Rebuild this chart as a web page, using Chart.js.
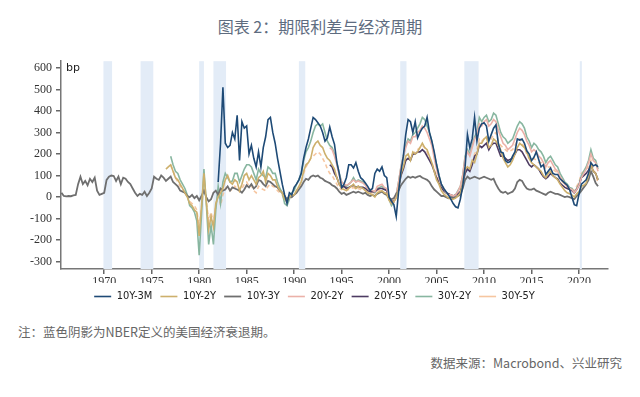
<!DOCTYPE html>
<html>
<head>
<meta charset="utf-8">
<script src="https://cdn.jsdelivr.net/npm/chart.js@4.4.0/dist/chart.umd.min.js"></script>
<style>
  body { margin: 0; background: #fff; width: 640px; height: 397px; overflow: hidden; position: relative; }
  #title { position: absolute; top: 14px; left: 0; width: 640px; text-align: center; font: 16px "Noto Sans CJK SC", sans-serif; color: #5e6c80; }
  #note { position: absolute; top: 322px; left: 18px; font: 12.5px "Noto Sans CJK SC", sans-serif; color: #666; }
  #source { position: absolute; top: 353px; right: 18px; font: 12.5px "Noto Sans CJK SC", sans-serif; color: #666; }
  #wrap { position: absolute; top: 50px; left: 0; width: 640px; height: 262px; }
</style>
</head>
<body>
<div id="title">图表 2：期限利差与经济周期</div>
<div id="wrap"><canvas id="chart"></canvas></div>
<div id="note">注：蓝色阴影为NBER定义的美国经济衰退期。</div>
<div id="source">数据来源：Macrobond、兴业研究</div>
<script>
// quarterly readings (bp), each series starts at its own date
const start10y3m = 1982.0;
const s10y3m = [
  70, 250, 510, 250,  230, 240, 300, 270,  380, 170, 350, 320,  330, 200, 240, 180,
  140, 210, 140, 230,  280, 360, 370, 300,  250, 180, 120, 60,  10, -30, 20, 10,
  45, 60, 80, 110,  180, 230, 270, 320,  370, 360, 345, 330,  300, 260, 275, 325,
  280, 245, 160, 110,  45, 60, 90, 150,  150, 135, 160, 120,  90, 80, 65, 50,
  30, 40, 110, 130,  120, 140, 100, 90,  0, -20, -35, -90,  25, 120, 190, 290,
  360, 350, 300, 350,  275, 300, 320, 330,  370, 300, 260, 210,  150, 100, 60, 40,
  25, 10, -10, -30,  -45, -50, -10, 50,  140, 290, 230, 270,  370, 260, 320, 340,
  345, 330, 260, 290,  320, 335, 250, 210,  205, 170, 160, 165,  190, 210, 270, 265,
  270, 250, 215, 200,  170, 185, 210, 175,  140, 150, 105, 120,  135, 110, 105, 105,
  85, 75, 65, 55,  35, 0, -35, -40,  15, 60, 70, 80,  110, 160, 145, 150,  140
];
const start10y2y = 1976.5;
const s10y2y = [
  130, 140,  150, 120, 90, 80,  60, 40, 20, 0,  -30, -40, -60, -70,  -180, -40, 110, -20,
  -150, -90, -140, -30,  0, 20, 40, 80,  100, 70, 60, 80,  70, 30, 60, 100,  110, 80, 100, 80,
  60, 90, 100, 120,  70, 110, 100, 80,  80, 50, 30, 20,  -10, -20, 0, 10,  10, 30, 50, 70,
  120, 150, 160, 180,  230, 250, 260, 240,  230, 200, 180, 170,  150, 130, 90, 60,  40, 35, 30, 40,
  50, 60, 40, 50,  45, 40, 30, 20,  15, 10, 0, 20,  25, 30, 20, 15,  -15, -30, -20, -5,
  40, 110, 140, 190,  200, 170, 210, 200,  210, 230, 250, 230,  220, 190, 160, 120,  80, 60, 30, 15,
  5, -5, -10, -10,  -5, 5, 20, 60,  130, 140, 130, 170,  160, 200, 250, 250,  270, 280, 230, 240,
  270, 260, 240, 220,  180, 160, 140, 150,  170, 200, 230, 250,  240, 230, 210, 180,  160, 150, 140, 130,
  120, 100, 90, 110,  120, 100, 90, 80,  60, 45, 30, 20,  15, 10, 0, 15,  25, 50, 55, 65,
  100, 150, 120, 110,  80
];
const start10y3y = 1965.5;
const s10y3y = [
  20, 5,  3, 5, 4, 8,  10, 60, 95, 60,  75, 55, 85, 70,  90, 30, 10, 15,  20, 80, 95, 100,
  98, 75, 95, 60,  90, 85, 70, 60,  40, 20, 5, 15,  10, 25, 5, 20,  40, 95, 85, 80,
  100, 90, 75, 85,  95, 70, 60, 50,  30, 25, 20, 5,  0, 10, -5, 5,  -15, 5, 30, 0,
  -20, -10, 20, 30,  10, 40, 30, 35,  50, 30, 45, 40,  35, 30, 20, 35,  55, 45, 60, 40,
  50, 80, 75, 60,  50, 75, 70, 60,  50, 45, 30, 20,  5, -10, 5, 0,  10, 20, 35, 50,
  70, 85, 80, 95,  100, 95, 100, 90,  85, 75, 70, 65,  55, 50, 40, 25,  15, 20, 10, 15,
  20, 25, 20, 25,  20, 15, 20, 10,  5, 10, 5, 15,  20, 25, 15, 10,  -5, -10, -5, 15,
  30, 55, 70, 85,  95, 90, 95, 90,  95, 98, 90, 85,  80, 70, 50, 35,  25, 15, 5, 5,
  0, -5, 0, -5,  0, 5, 10, 40,  80, 95, 85, 90,  95, 90, 85, 90,  95, 90, 85, 80,
  85, 60, 40, 25,  20, 25, 15, 20,  25, 40, 70, 80,  75, 55, 40, 35,  35, 40, 30, 25,
  20, 15, 10, 20,  25, 20, 15, 15,  10, 5, 0, 3,  0, -5, -10, 5,  15, 30, 45, 60,
  80, 120, 95, 65,  50
];
const start20y2y = 1993.75;
const s20y2y = [
  230,  220, 190, 150, 100,  70, 60, 55, 60,  70, 80, 70, 75,  70, 65, 55, 40,
  35, 30, 25, 50,  55, 60, 45, 40,  -5, -30, -25, 10,  70, 140, 190, 230,
  260, 250, 280, 280,  300, 310, 330, 320,  300, 270, 240, 180,  130, 90, 55, 40,
  20, 10, 10, 5,  10, 25, 50, 100,  180, 210, 190, 230,  270, 290, 340, 330,
  350, 360, 330, 340,  360, 350, 310, 280,  250, 240, 220, 230,  240, 270, 300, 320,
  310, 290, 260, 240,  210, 220, 210, 190,  180, 160, 140, 160,  170, 150, 130, 120,
  95, 80, 60, 50,  40, 35, 20, 35,  55, 90, 110, 130,  160, 200, 170, 160,  120
];
const start20y5y = 1993.75;
const s20y5y = [
  150,  140, 110, 90, 60,  45, 50, 40, 45,  50, 55, 45, 50,  45, 45, 40, 30,
  25, 25, 25, 35,  40, 40, 35, 30,  0, -20, -20, 5,  45, 100, 130, 170,
  180, 170, 200, 200,  210, 210, 220, 210,  190, 170, 150, 120,  90, 65, 45, 30,
  20, 15, 10, 5,  10, 15, 25, 60,  110, 130, 120, 150,  190, 200, 240, 230,
  240, 250, 220, 240,  250, 250, 220, 190,  190, 180, 170, 175,  180, 200, 220, 220,
  210, 190, 170, 150,  140, 150, 140, 130,  110, 95, 85, 95,  110, 100, 90, 85,
  65, 55, 45, 40,  35, 30, 20, 35,  55, 90, 100, 110,  125, 150, 120, 110,  80
];
const start30y2y = 1977.0;
const s30y2y = [
  190, 150, 120, 110,  80, 60, 40, 10,  -40, -50, -70, -110,  -270, -80, 130, -30,
  -220, -130, -220, -60,  50, -30, 70, 110,  90, 70, 75, 110,  110, 70, 100, 130,
  150, 150, 140, 110,  80, 130, 110, 100,  90, 140, 130, 110,  110, 70, 40, 20,
  -30, -40, -10, 20,  30, 60, 80, 110,  170, 210, 230, 260,  300, 330, 340, 330,
  340, 300, 260, 240,  230, 200, 160, 110,  70, 60, 50, 60,  70, 90, 70, 80,
  75, 70, 60, 40,  35, 30, 20, 40,  45, 50, 40, 30,  -10, -40, -25, 10,
  70, 140, 190, 240,  270, 260, 290, 300,  320, 340, 370, 360,  330, 300, 260, 200,
  150, 100, 60, 40,  20, 10, 10, 5,  10, 30, 50, 100,  190, 220, 200, 240,
  280, 300, 370, 350,  370, 380, 350, 360,  390, 380, 340, 300,  280, 270, 250, 260,
  270, 300, 330, 350,  340, 320, 280, 260,  230, 250, 240, 220,  210, 190, 160, 180,
  190, 170, 150, 140,  110, 90, 70, 60,  45, 40, 20, 40,  60, 100, 120, 140,
  170, 220, 180, 170,  130
];
const start30y5y = 1977.0;
const s30y5y = [
  150, 120, 90, 70,  50, 40, 20, 10,  -20, -30, -40, -60,  -140, -50, 60, -20,
  -110, -70, -120, -40,  20, -40, 10, 40,  50, 30, 35, 50,  40, 25, 40, 60,
  70, 50, 55, 30,  20, 50, 40, 35,  30, 50, 60, 50,  45, 30, 20, 10,
  -15, -20, -10, 0,  15, 30, 40, 70,  110, 140, 160, 180,  190, 200, 210, 200,
  180, 160, 130, 110,  100, 80, 60, 40,  35, 40, 30, 35,  40, 45, 35, 40,
  35, 35, 30, 25,  20, 20, 20, 30,  30, 25, 20, 20,  -5, -20, -15, 5,
  40, 100, 140, 170,  190, 180, 200, 210,  220, 230, 240, 230,  210, 180, 160, 130,
  100, 70, 50, 30,  20, 15, 10, 5,  10, 20, 30, 60,  110, 140, 130, 160,
  200, 220, 270, 260,  270, 280, 260, 270,  290, 300, 260, 240,  230, 220, 210, 215,
  220, 240, 260, 270,  250, 230, 200, 180,  170, 180, 170, 160,  160, 150, 130, 140,
  140, 130, 120, 115,  90, 70, 60, 50,  40, 40, 30, 50,  70, 110, 120, 130,
  140, 170, 130, 110,  60
];

const labels = ['10Y-3M', '10Y-2Y', '10Y-3Y', '20Y-2Y', '20Y-5Y', '30Y-2Y', '30Y-5Y'];
const colors = ['#1e4a76', '#cdb06c', '#6f6f6f', '#ebb1a9', '#4d3b62', '#88b6a0', '#f6c6a0'];
const yTicks = [-300, -200, -100, 0, 100, 200, 300, 400, 500, 600];
const xTicks = [1970, 1975, 1980, 1985, 1990, 1995, 2000, 2005, 2010, 2015, 2020];
// NBER recessions, decimal years
const recessions = [[1969.92, 1970.83], [1973.83, 1975.17], [1980.0, 1980.5], [1981.5, 1982.83],
  [1990.5, 1991.17], [2001.17, 2001.83], [2007.92, 2009.42], [2020.08, 2020.3]];

function toPoints(start, vals) {
  return vals.map((v, i) => ({ x: start + i * 0.25, y: v }));
}

const seriesData = [
  toPoints(start10y3m, s10y3m), toPoints(start10y2y, s10y2y), toPoints(start10y3y, s10y3y),
  toPoints(start20y2y, s20y2y), toPoints(start20y5y, s20y5y), toPoints(start30y2y, s30y2y),
  toPoints(start30y5y, s30y5y)
];

const datasets = labels.map((l, i) => ({
  label: l,
  data: seriesData[i],
  borderColor: colors[i],
  backgroundColor: colors[i],
  borderWidth: i === 2 ? 1.8 : 1.6,
  borderDash: i === 6 ? [4, 3] : [],
  pointRadius: 0,
  tension: 0,
  fill: false
}));

const recessionBands = {
  id: 'recessionBands',
  beforeDatasetsDraw(chart) {
    const { ctx, chartArea, scales } = chart;
    ctx.save();
    ctx.fillStyle = '#e3ecf7';
    recessions.forEach(([a, b]) => {
      const x0 = scales.x.getPixelForValue(a);
      const x1 = scales.x.getPixelForValue(b);
      ctx.fillRect(x0, chartArea.top, x1 - x0, chartArea.bottom - chartArea.top);
    });
    ctx.restore();
  }
};

const unitLabel = {
  id: 'unitLabel',
  afterDatasetsDraw(chart) {
    const { ctx, chartArea, scales } = chart;
    ctx.save();
    ctx.font = '11px "DejaVu Sans", sans-serif';
    ctx.fillStyle = '#222';
    ctx.textBaseline = 'middle';
    ctx.fillText('bp', chartArea.left + 5, scales.y.getPixelForValue(600));
    ctx.restore();
  }
};

const tickFont = { family: "'Times New Roman', 'Liberation Serif', serif", size: 12 };

new Chart(document.getElementById('chart'), {
  type: 'line',
  data: { datasets },
  options: {
    responsive: true,
    maintainAspectRatio: false,
    animation: false,
    layout: { padding: { top: 10, left: 21, right: 32, bottom: 0 } },
    plugins: {
      tooltip: { enabled: false },
      legend: {
        position: 'bottom',
        labels: {
          usePointStyle: true,
          pointStyle: 'line',
          pointStyleWidth: 17,
          padding: 8,
          color: '#222',
          font: { family: "'DejaVu Sans Condensed', 'Liberation Sans Narrow', Roboto, sans-serif", size: 11 }
        }
      }
    },
    scales: {
      x: {
        type: 'linear',
        min: 1965.45,
        max: 2023.05,
        afterBuildTicks: s => { s.ticks = xTicks.map(v => ({ value: v })); },
        afterFit: s => { s.height = 14; },
        ticks: { font: tickFont, color: '#333', padding: 1, maxRotation: 0, callback: v => String(v) },
        grid: { drawOnChartArea: false, drawTicks: true, tickLength: 5, color: '#666', lineWidth: 1.5 },
        border: { color: '#777', width: 1.5 }
      },
      y: {
        min: -334,
        max: 631,
        afterBuildTicks: s => { s.ticks = yTicks.map(v => ({ value: v })); },
        afterFit: s => { s.width = 40; },
        ticks: { font: tickFont, color: '#333', padding: 4, callback: v => String(v) },
        grid: { drawOnChartArea: false, drawTicks: true, tickLength: 5, color: '#666', lineWidth: 1.5 },
        border: { color: '#777', width: 1.5 }
      }
    }
  },
  plugins: [recessionBands, unitLabel]
});
</script>
</body>
</html>
